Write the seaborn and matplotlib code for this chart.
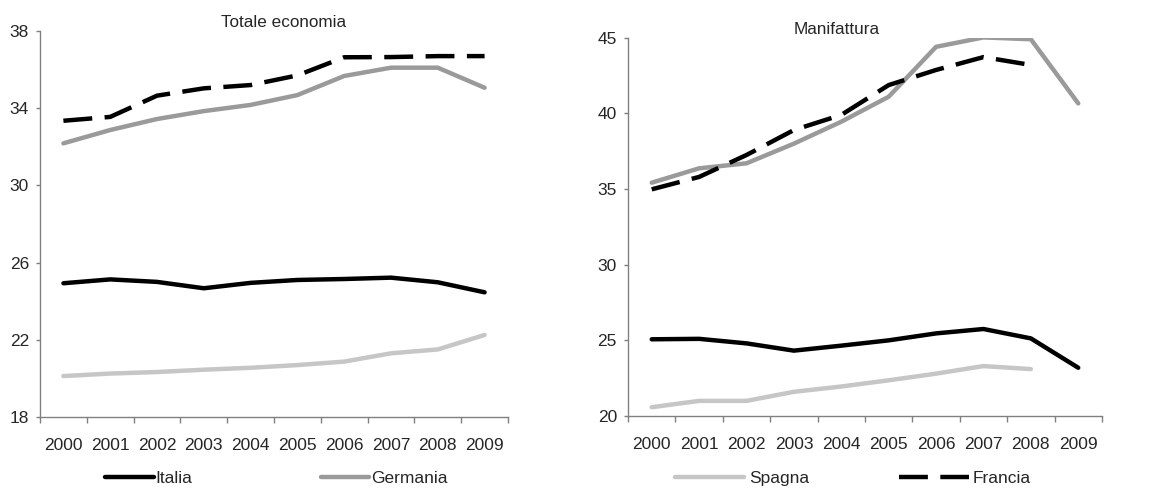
import pandas as pd
import seaborn as sns
import matplotlib.pyplot as plt
from matplotlib.lines import Line2D

anni = ["2000", "2001", "2002", "2003", "2004", "2005", "2006", "2007", "2008", "2009"]
paesi = ["Italia", "Germania", "Spagna", "Francia"]

# Totale economia
tot_italia = [24.93, 25.13, 25.0, 24.67, 24.95, 25.1, 25.15, 25.22, 24.98, 24.46]
tot_germania = [32.18, 32.87, 33.44, 33.85, 34.17, 34.68, 35.67, 36.1, 36.1, 35.06]
tot_spagna = [20.12, 20.25, 20.33, 20.45, 20.55, 20.69, 20.87, 21.3, 21.5, 22.25]
tot_francia = [33.35, 33.55, 34.65, 35.03, 35.2, 35.7, 36.64, 36.65, 36.7, 36.7]

# Manifattura
man_italia = [25.07, 25.1, 24.8, 24.32, 24.65, 25.0, 25.46, 25.75, 25.13, 23.19]
man_germania = [35.42, 36.37, 36.7, 38.0, 39.45, 41.1, 44.4, 45.02, 44.9, 40.66]
man_spagna = [20.58, 21.0, 21.0, 21.6, 21.95, 22.36, 22.8, 23.3, 23.1, None]
man_francia = [34.98, 35.8, 37.25, 38.9, 39.9, 41.87, 42.87, 43.72, 43.2, None]


def lungo(serie):
    righe = []
    for paese, valori in zip(paesi, serie):
        for i, v in enumerate(valori):
            righe.append({"pos": i, "paese": paese, "valore": v})
    return pd.DataFrame(righe).dropna()


df_tot = lungo([tot_italia, tot_germania, tot_spagna, tot_francia])
df_man = lungo([man_italia, man_germania, man_spagna, man_francia])

sns.set_style("white")
plt.rcParams["font.family"] = ["Liberation Sans", "DejaVu Sans"]

colori = {"Italia": "black", "Germania": "#9a9a9a", "Spagna": "#c6c6c6", "Francia": "black"}
tratti = {"Italia": "", "Germania": "", "Spagna": "", "Francia": (6.5, 2.8)}
fs = 12.5

fig = plt.figure(figsize=(11.63, 4.9), dpi=100)
ax1 = fig.add_axes([0.0344, 0.149, 0.4024, 0.7877])
ax2 = fig.add_axes([0.540, 0.151, 0.4075, 0.772])


def disegna(ax, df, yticks, titolo, tx):
    sns.lineplot(data=df, x="pos", y="valore", hue="paese", style="paese",
                 hue_order=paesi, style_order=paesi, palette=colori, dashes=tratti,
                 linewidth=3.2, legend=False, ax=ax)
    ax.set_xlim(-0.5, 9.5)
    ax.set_ylim(yticks[0], yticks[-1])
    ax.set_yticks(yticks)
    ax.set_xticks(range(len(anni)))
    ax.set_xticklabels(anni)
    ax.set_xticks([i - 0.5 for i in range(len(anni) + 1)], minor=True)
    ax.tick_params(axis="x", which="major", length=0, pad=15, labelsize=fs)
    ax.tick_params(axis="x", which="minor", length=4, color="#808080", width=1, bottom=True)
    ax.tick_params(axis="y", length=3, color="#808080", width=1, pad=5, labelsize=fs, left=True)
    ax.set_xlabel("")
    ax.set_ylabel("")
    for s in ["top", "right"]:
        ax.spines[s].set_visible(False)
    for s in ["left", "bottom"]:
        ax.spines[s].set_color("#808080")
        ax.spines[s].set_linewidth(1)
    ax.set_title(titolo, fontsize=12.3, x=tx, pad=3)


disegna(ax1, df_tot, [18, 22, 26, 30, 34, 38], "Totale economia", 0.52)
disegna(ax2, df_man, [20, 25, 30, 35, 40, 45], "Manifattura", 0.44)


def maniglia(p):
    return Line2D([0], [0], color=colori[p], linewidth=3.2,
                  linestyle="-" if p != "Francia" else (0, tratti["Francia"]))


fig.legend([maniglia("Italia"), maniglia("Germania")], ["Italia", "Germania"],
           loc="center left", bbox_to_anchor=(105 / 1163, 0.023), ncol=2, frameon=False,
           fontsize=fs, handlelength=2.8, handletextpad=0.1, columnspacing=7.4,
           borderpad=0, borderaxespad=0)
fig.legend([maniglia("Spagna"), maniglia("Francia")], ["Spagna", "Francia"],
           loc="center left", bbox_to_anchor=(675 / 1163, 0.023), ncol=2, frameon=False,
           fontsize=fs, handlelength=4.0, handletextpad=0.25, columnspacing=5.2,
           borderpad=0, borderaxespad=0)

fig.savefig("out.png", dpi=100)
